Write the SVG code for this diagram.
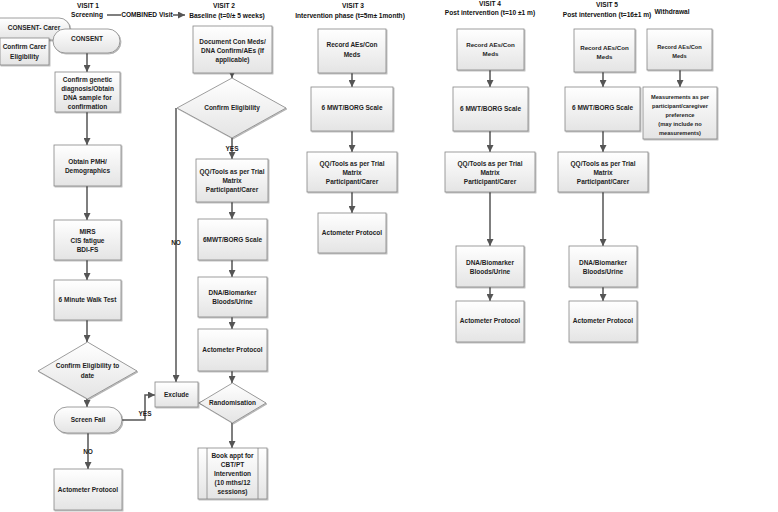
<svg xmlns="http://www.w3.org/2000/svg" width="778" height="512" viewBox="0 0 778 512">
<defs>
<linearGradient id="g" x1="0" y1="0" x2="0" y2="1">
<stop offset="0" stop-color="#ffffff"/>
<stop offset="1" stop-color="#e4e4e4"/>
</linearGradient>
<filter id="sh" x="-10%" y="-10%" width="130%" height="130%">
<feDropShadow dx="1" dy="1" stdDeviation="0.6" flood-color="#000" flood-opacity="0.3"/>
</filter>
<marker id="ah" markerUnits="userSpaceOnUse" markerWidth="7" markerHeight="7" refX="7" refY="3.5" orient="auto">
<path d="M0,0 L7,3.5 L0,7 z" fill="#555"/>
</marker>
</defs>
<style>
.b{fill:url(#g);stroke:#858585;stroke-width:0.8;filter:url(#sh)}
.t{font-family:"Liberation Sans",Arial,sans-serif;font-size:6.5px;font-weight:bold;fill:#1e1e1e;text-anchor:middle}
.s{font-size:5.7px}
.m{font-size:6.2px}
.h{font-family:"Liberation Sans",Arial,sans-serif;font-size:6.6px;font-weight:bold;fill:#111;text-anchor:middle}
.c{fill:none;stroke:#555;stroke-width:1.5;marker-end:url(#ah)}
.l{fill:none;stroke:#555;stroke-width:1.5}
</style>
<rect width="778" height="512" fill="#fff"/>

<g id="headers">
<text class="h" x="88" y="7.5">VISIT 1</text>
<text class="h" x="87" y="16.5">Screening</text>
<text class="h" x="224" y="8.3">VISIT 2</text>
<text class="h" x="227" y="18.3">Baseline (t=0/± 5 weeks)</text>
<text class="h" x="353" y="8.3">VISIT 3</text>
<text class="h" x="350" y="18.3">Intervention phase (t=5m± 1month)</text>
<text class="h" x="490" y="5.5">VISIT 4</text>
<text class="h" x="490" y="14.5">Post intervention (t=10 ±1 m)</text>
<text class="h" x="607" y="7.3">VISIT 5</text>
<text class="h" x="607" y="16.5">Post intervention (t=16±1 m)</text>
<text class="h" x="672" y="14.3">Withdrawal</text>
</g>

<g id="connectors">
<line class="l" x1="107" y1="15" x2="121" y2="15"/>
<line class="c" x1="173" y1="15" x2="185" y2="15"/>
<text class="h" x="147" y="17.3">COMBINED Visit</text>
<line class="c" x1="87" y1="53" x2="87" y2="72"/>
<line class="c" x1="87" y1="112" x2="87" y2="145"/>
<line class="c" x1="87" y1="186" x2="87" y2="220"/>
<line class="c" x1="87" y1="260" x2="87" y2="280"/>
<line class="c" x1="87" y1="320" x2="87" y2="342"/>
<line class="c" x1="87" y1="399" x2="87" y2="407"/>
<line class="c" x1="88" y1="433" x2="88" y2="469"/>
<path class="c" d="M122,420 H145 V395 H155"/>
<path class="c" d="M176,108 V382"/>
<path d="M198,403 L205,399.5 L205,406.5 z" fill="#555"/>
<line class="c" x1="232" y1="73" x2="232" y2="78"/>
<line class="c" x1="232" y1="138" x2="232" y2="159"/>
<line class="c" x1="232" y1="202" x2="232" y2="219"/>
<line class="c" x1="232" y1="260" x2="232" y2="277"/>
<line class="c" x1="232" y1="317" x2="232" y2="329"/>
<line class="c" x1="232" y1="371" x2="232" y2="383"/>
<line class="c" x1="232" y1="423" x2="232" y2="448"/>
<line class="c" x1="352" y1="73" x2="352" y2="87"/>
<line class="c" x1="352" y1="131" x2="352" y2="152"/>
<line class="c" x1="352" y1="192" x2="352" y2="213"/>
<line class="c" x1="490" y1="70" x2="490" y2="87"/>
<line class="c" x1="490" y1="131" x2="490" y2="152"/>
<line class="c" x1="490" y1="192" x2="490" y2="246"/>
<line class="c" x1="490" y1="287" x2="490" y2="301"/>
<line class="c" x1="603" y1="72" x2="603" y2="87"/>
<line class="c" x1="603" y1="131" x2="603" y2="152"/>
<line class="c" x1="603" y1="192" x2="603" y2="246"/>
<line class="c" x1="603" y1="287" x2="603" y2="301"/>
<line class="c" x1="680" y1="70" x2="680" y2="87"/>
<text class="t" x="176" y="245.3">NO</text>
<text class="t" x="145" y="416.3">YES</text>
<text class="t" x="88" y="454.3">NO</text>
<text class="t" x="232" y="151.3">YES</text>
</g>

<g id="consent-carer"><rect class="b" x="-12" y="18" width="82" height="22" rx="11"/><text class="t" x="34" y="29.5">CONSENT- Carer</text></g>
<g id="consent"><rect class="b" x="53" y="29" width="67" height="24" rx="12"/><text class="t" x="87" y="41.3">CONSENT</text></g>
<g id="confirm-carer"><rect class="b" x="0" y="38" width="49" height="27"/><text class="t" x="24.5" y="49.3">Confirm Carer<tspan x="24.5" dy="10">Eligibility</tspan></text></g>
<g id="confirm-genetic"><rect class="b" x="55" y="72" width="65" height="40"/><text class="t" x="87.5" y="81.5">Confirm genetic<tspan x="87.5" dy="9">diagnosis/Obtain</tspan><tspan x="87.5" dy="9">DNA sample for</tspan><tspan x="87.5" dy="9">confirmation</tspan></text></g>
<g id="obtain-pmh"><rect class="b" x="54" y="145" width="67" height="41"/><text class="t" x="87.5" y="164.3">Obtain PMH/<tspan x="87.5" dy="9">Demographics</tspan></text></g>
<g id="mirs"><rect class="b" x="54" y="220" width="67" height="40"/><text class="t" x="87.5" y="234.3">MIRS<tspan x="87.5" dy="9">CIS fatigue</tspan><tspan x="87.5" dy="9">BDI-FS</tspan></text></g>
<g id="six-minute-walk"><rect class="b" x="54" y="280" width="67" height="40"/><text class="t" x="87.5" y="302.3">6 Minute Walk Test</text></g>
<g id="confirm-eligibility-date"><polygon class="b" points="87.5,342 137,371 87.5,399 38,371"/><text class="t" x="87.5" y="368.3">Confirm Eligibility to<tspan x="87.5" dy="10">date</tspan></text></g>
<g id="screen-fail"><rect class="b" x="54" y="407" width="68" height="26" rx="13"/><text class="t" x="88" y="422.3">Screen Fail</text></g>
<g id="actometer-v1"><rect class="b" x="54" y="469" width="68" height="41"/><text class="t" x="88" y="492.3">Actometer Protocol</text></g>
<g id="exclude"><rect class="b" x="155" y="382" width="43" height="25"/><text class="t" x="176.5" y="396.8">Exclude</text></g>

<g id="document-v2"><rect class="b" x="193" y="26" width="79" height="47"/><text class="t" x="232.5" y="44.3">Document Con Meds/<tspan x="232.5" dy="9">DNA Confirm/AEs (If</tspan><tspan x="232.5" dy="9">applicable)</tspan></text></g>
<g id="confirm-eligibility"><polygon class="b" points="232,78 286,108 232,138 177,108"/><text class="t" x="232" y="110.3">Confirm Eligibility</text></g>
<g id="qq-v2"><rect class="b" x="196" y="159" width="72" height="43"/><text class="t" x="232" y="174.3">QQ/Tools as per Trial<tspan x="232" dy="9">Matrix</tspan><tspan x="232" dy="9">Participant/Carer</tspan></text></g>
<g id="mwt-v2"><rect class="b" x="198" y="219" width="69" height="41"/><text class="t" x="232.5" y="242.3">6MWT/BORG Scale</text></g>
<g id="dna-v2"><rect class="b" x="198" y="277" width="69" height="40"/><text class="t" x="232.5" y="295.3">DNA/Biomarker<tspan x="232.5" dy="9">Bloods/Urine</tspan></text></g>
<g id="actometer-v2"><rect class="b" x="198" y="329" width="69" height="42"/><text class="t" x="232.5" y="352.3">Actometer Protocol</text></g>
<g id="randomisation"><polygon class="b" points="232.5,383 266,403 232.5,423 199,403"/><text class="t" x="232.5" y="405.3">Randomisation</text></g>
<g id="book-appt"><rect class="b" x="198" y="448" width="69" height="51"/><line x1="207" y1="448" x2="207" y2="499" stroke="#858585" stroke-width="0.8"/><line x1="258" y1="448" x2="258" y2="499" stroke="#858585" stroke-width="0.8"/><text class="t" x="232.5" y="458.3">Book appt for<tspan x="232.5" dy="9">CBT/PT</tspan><tspan x="232.5" dy="9">Intervention</tspan><tspan x="232.5" dy="9">(10 mths/12</tspan><tspan x="232.5" dy="9">sessions)</tspan></text></g>

<g id="record-v3"><rect class="b" x="318" y="29" width="68" height="44"/><text class="t" x="352" y="47.3">Record AEs/Con<tspan x="352" dy="10">Meds</tspan></text></g>
<g id="mwt-v3"><rect class="b" x="311" y="87" width="82" height="44"/><text class="t" x="352" y="110.3">6 MWT/BORG Scale</text></g>
<g id="qq-v3"><rect class="b" x="307" y="152" width="90" height="40"/><text class="t" x="352" y="165.8">QQ/Tools as per Trial<tspan x="352" dy="9">Matrix</tspan><tspan x="352" dy="9">Participant/Carer</tspan></text></g>
<g id="actometer-v3"><rect class="b" x="318" y="213" width="68" height="40"/><text class="t" x="352" y="235.3">Actometer Protocol</text></g>

<g id="record-v4"><rect class="b" x="457" y="29" width="67" height="41"/><text class="t m" x="490.5" y="47.3">Record AEs/Con<tspan x="490.5" dy="9">Meds</tspan></text></g>
<g id="mwt-v4"><rect class="b" x="453" y="87" width="75" height="44"/><text class="t" x="490.5" y="111.3">6 MWT/BORG Scale</text></g>
<g id="qq-v4"><rect class="b" x="445" y="152" width="90" height="40"/><text class="t" x="490" y="165.8">QQ/Tools as per Trial<tspan x="490" dy="9">Matrix</tspan><tspan x="490" dy="9">Participant/Carer</tspan></text></g>
<g id="dna-v4"><rect class="b" x="456" y="246" width="68" height="41"/><text class="t" x="490" y="265.3">DNA/Biomarker<tspan x="490" dy="9">Bloods/Urine</tspan></text></g>
<g id="actometer-v4"><rect class="b" x="456" y="301" width="68" height="41"/><text class="t" x="490" y="323.3">Actometer Protocol</text></g>

<g id="record-v5"><rect class="b" x="574" y="29" width="61" height="43"/><text class="t m" x="604.5" y="49.5">Record AEs/Con<tspan x="604.5" dy="9.5">Meds</tspan></text></g>
<g id="mwt-v5"><rect class="b" x="565" y="87" width="75" height="44"/><text class="t" x="602.5" y="110.3">6 MWT/BORG Scale</text></g>
<g id="qq-v5"><rect class="b" x="558" y="152" width="90" height="40"/><text class="t" x="603" y="165.8">QQ/Tools as per Trial<tspan x="603" dy="9">Matrix</tspan><tspan x="603" dy="9">Participant/Carer</tspan></text></g>
<g id="dna-v5"><rect class="b" x="569" y="246" width="68" height="41"/><text class="t" x="603" y="265.3">DNA/Biomarker<tspan x="603" dy="9">Bloods/Urine</tspan></text></g>
<g id="actometer-v5"><rect class="b" x="569" y="301" width="68" height="41"/><text class="t" x="603" y="323.3">Actometer Protocol</text></g>

<g id="record-withdrawal"><rect class="b" x="647" y="29" width="65" height="41"/><text class="t s" x="679.5" y="49">Record AEs/Con<tspan x="679.5" dy="9">Meds</tspan></text></g>
<g id="measurements"><rect class="b" x="643" y="87" width="74" height="52"/><text class="t s" x="680" y="99">Measurements as per<tspan x="680" dy="9">participant/caregiver</tspan><tspan x="680" dy="9">preference</tspan><tspan x="680" dy="9">(may include no</tspan><tspan x="680" dy="9">measurements)</tspan></text></g>
</svg>
